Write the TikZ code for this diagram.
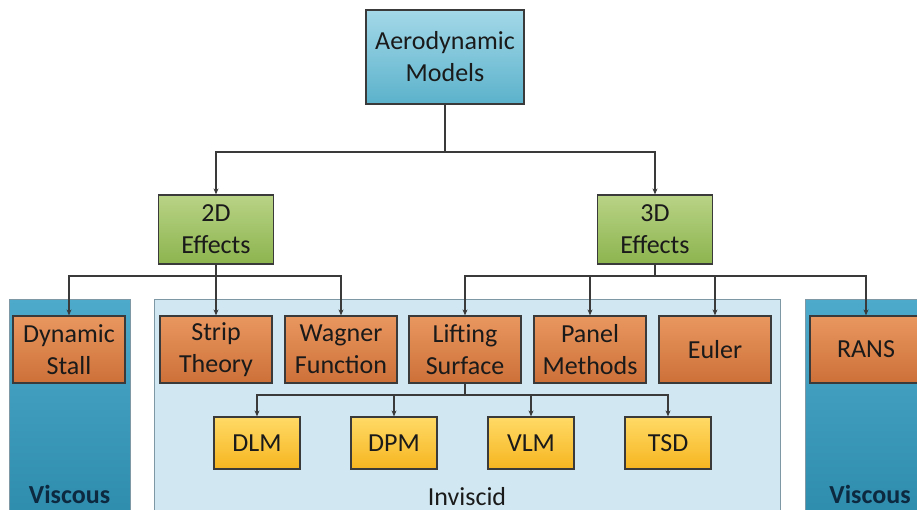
\documentclass[tikz,border=0pt]{standalone}
\usepackage{fontspec}
\setmainfont{Carlito}
\usetikzlibrary{arrows.meta,positioning}
\definecolor{linec}{HTML}{3A3A3A}
\definecolor{txt}{HTML}{1A1A1A}
\tikzset{
  every node/.style={font=\fontsize{26}{32}\selectfont, text=txt, align=center, inner sep=0pt},
  boxbase/.style={draw=linec, line width=1.2pt},
  topbox/.style={boxbase, top color=cTopA, bottom color=cTopB, minimum width=158pt, minimum height=94pt},
  effbox/.style={boxbase, top color=cGrA, bottom color=cGrB, minimum width=115pt, minimum height=69pt},
  orbox/.style={boxbase, top color=cOrA, bottom color=cOrB, minimum width=112pt, minimum height=67pt},
  yebox/.style={boxbase, top color=cYeA, bottom color=cYeB, minimum width=86pt, minimum height=52pt},
  arr/.style={draw=linec, line width=1.1pt, -{Stealth[length=6pt,width=5pt]}},
  ln/.style={draw=linec, line width=1.1pt},
  panelv/.style={draw=cPanLine, line width=0.8pt, top color=cVisA, bottom color=cVisB},
  paneli/.style={draw=cPanLine, line width=0.8pt, fill=cInv},
}
\definecolor{cTopA}{HTML}{A3D8E8}
\definecolor{cTopB}{HTML}{5BB2CB}
\definecolor{cGrA}{HTML}{B9D386}
\definecolor{cGrB}{HTML}{8CB44E}
\definecolor{cOrA}{HTML}{E9975F}
\definecolor{cOrB}{HTML}{CC7038}
\definecolor{cYeA}{HTML}{FFDA66}
\definecolor{cYeB}{HTML}{F6B520}
\definecolor{cVisA}{HTML}{4EAACA}
\definecolor{cVisB}{HTML}{2D8BAC}
\definecolor{cInv}{HTML}{D1E8F2}
\definecolor{cPanLine}{HTML}{7F98A6}
\definecolor{cVisTxt}{HTML}{0C2940}
\begin{document}
\begin{tikzpicture}[x=1pt,y=-1pt]
\useasboundingbox (0,0) rectangle (917,510);
\clip (0,0) rectangle (917,510);
\fill[white] (0,0) rectangle (917,510);
% panels
\path[panelv] (9,299) rectangle (130,520);
\path[paneli] (154,299) rectangle (780,520);
\path[panelv] (805,299) rectangle (925,520);
\node[font=\fontsize{26}{32}\selectfont\bfseries, text=cVisTxt, anchor=base] (visL) at (69.5,503) {Viscous};
\node[anchor=base] (invis) at (467,505) {Inviscid};
\node[font=\fontsize{26}{32}\selectfont\bfseries, text=cVisTxt, anchor=base] (visR) at (870,503) {Viscous};
% nodes
\node[topbox] (top) at (445,57) {Aerodynamic\\Models};
\node[effbox] (d2) at (216,229.5) {2D\\Effects};
\node[effbox] (d3) at (655,229.5) {3D\\Effects};
\node[orbox] (ds) at (69,349.5) {Dynamic\\Stall};
\node[orbox] (st) at (216,349.5) {Strip\\Theory};
\node[orbox] (wf) at (341,349.5) {Wagner\\Function};
\node[orbox] (ls) at (465,349.5) {Lifting\\Surface};
\node[orbox] (pm) at (590,349.5) {Panel\\Methods};
\node[orbox] (eu) at (715,349.5) {Euler};
\node[orbox] (rans) at (866,349.5) {RANS};
\node[yebox] (dlm) at (257,443) {DLM};
\node[yebox] (dpm) at (394,443) {DPM};
\node[yebox] (vlm) at (531,443) {VLM};
\node[yebox] (tsd) at (668,443) {TSD};
% junctions
\coordinate (j0) at (445,152);
\coordinate (j2) at (216,276);
\coordinate (j3) at (655,276);
\coordinate (j4) at (465,395);
% connectors
\draw[ln] (top.south) -- (j0);
\draw[arr] (j0) -| (d2.north);
\draw[arr] (j0) -| (d3.north);
\draw[ln] (d2.south) -- (j2);
\draw[arr] (j2) -| (ds.north);
\draw[arr] (j2) -- (st.north);
\draw[arr] (j2) -| (wf.north);
\draw[ln] (d3.south) -- (j3);
\draw[arr] (j3) -| (ls.north);
\draw[arr] (j3) -| (pm.north);
\draw[arr] (j3) -| (eu.north);
\draw[arr] (j3) -| (rans.north);
\draw[ln] (ls.south) -- (j4);
\draw[arr] (j4) -| (dlm.north);
\draw[arr] (j4) -| (dpm.north);
\draw[arr] (j4) -| (vlm.north);
\draw[arr] (j4) -| (tsd.north);
\end{tikzpicture}
\end{document}
